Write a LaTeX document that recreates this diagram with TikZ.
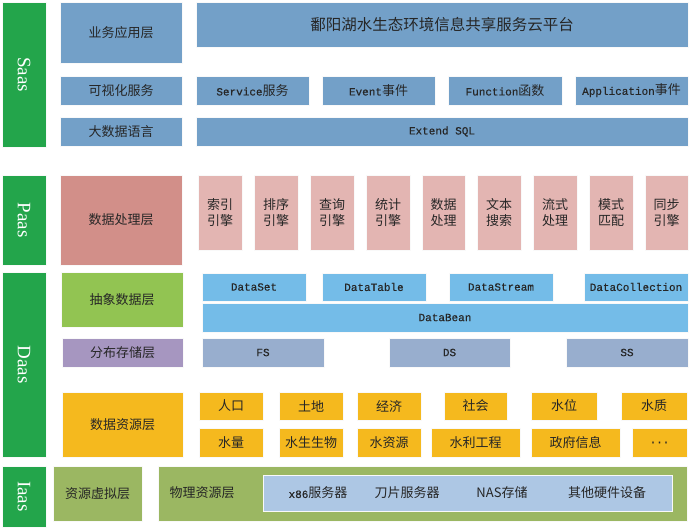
\documentclass[tikz,border=0pt]{standalone}
\usepackage{fontspec}
\setmainfont{Noto Sans CJK SC}
\setmonofont{Liberation Mono}[FakeBold=0.4]
\newfontfamily\sidefont{Liberation Serif}
\definecolor{cGreen}{HTML}{23A54B}
\definecolor{cSteel}{HTML}{73A0C8}
\definecolor{cPinkD}{HTML}{D28F89}
\definecolor{cPinkL}{HTML}{E3B5B2}
\definecolor{cLime}{HTML}{92C452}
\definecolor{cSky}{HTML}{74BCE8}
\definecolor{cPurple}{HTML}{A696C0}
\definecolor{cGrayBlue}{HTML}{98AECE}
\definecolor{cOrange}{HTML}{F5B91E}
\definecolor{cOlive}{HTML}{9BB762}
\definecolor{cPale}{HTML}{ADC7E4}
\definecolor{cText}{HTML}{262626}
\newcommand\bx[7]{\node[basebox,#6,minimum width={(#4-#2)*1pt},minimum height={(#5-#3)*1pt}] (#1) at ({(#2+#4)/2},{(#3+#5)/2}) {#7};}
\newcommand\mt[1]{{\ttfamily\fontsize{11}{12}\selectfont #1}}
\begin{document}
\begin{tikzpicture}[x=1pt,y=-1pt,
  basebox/.style={draw=white!75!black!10,line width=0.6pt,inner sep=0pt,outer sep=0pt,text=cText,font=\fontsize{13}{15}\selectfont,align=center},
  side/.style={fill=cGreen},
  sidetext/.style={rotate=-90,text=white,font=\sidefont\fontsize{19}{20}\selectfont},
  steel/.style={fill=cSteel},
  pinkd/.style={fill=cPinkD},
  pinkl/.style={fill=cPinkL,font=\fontsize{13}{15.5}\selectfont},
  lime/.style={fill=cLime},
  sky/.style={fill=cSky},
  purple/.style={fill=cPurple},
  graybl/.style={fill=cGrayBlue},
  orange/.style={fill=cOrange},
  olive/.style={fill=cOlive},
  pale/.style={fill=cPale},
  mono/.style={font=\ttfamily\fontsize{11}{12}\selectfont},
  lbl/.style={text=cText,font=\fontsize{13}{15}\selectfont,inner sep=0pt}
]
\useasboundingbox (0,0) rectangle (689,530);
% side bars
\bx{saas}{2}{2}{46}{147}{side}{}
\node[sidetext] (saast) at (saas.center) {Saas};
\bx{paas}{2}{175}{46}{265}{side}{}
\node[sidetext] (paast) at (paas.center) {Paas};
\bx{daas}{2}{272}{46}{457}{side}{}
\node[sidetext] (daast) at (daas.center) {Daas};
\bx{iaas}{2}{466}{46}{527}{side}{}
\node[sidetext] (iaast) at (iaas.center) {Iaas};
% Saas
\bx{app}{60}{2}{182}{63}{steel}{业务应用层}
\bx{title}{196}{2}{688}{47}{steel,font=\fontsize{15.5}{17}\selectfont}{鄱阳湖水生态环境信息共享服务云平台}
\bx{vis}{60}{76}{182}{105}{steel}{可视化服务}
\bx{svc}{196}{76}{309}{105}{steel}{\mt{Service}服务}
\bx{evt}{322}{76}{435}{105}{steel}{\mt{Event}事件}
\bx{fun}{448}{76}{562}{105}{steel}{\mt{Function}函数}
\bx{apl}{575}{76}{688}{105}{steel}{\mt{Application}事件}
\bx{bdl}{60}{117}{182}{146}{steel}{大数据语言}
\bx{sql}{196}{117}{688}{146}{steel,mono}{Extend SQL}
% Paas
\bx{proc}{60}{175}{182}{265}{pinkd}{数据处理层}
\bx{e1}{198}{175}{242}{250}{pinkl}{索引\\引擎}
\bx{e2}{254}{175}{298}{250}{pinkl}{排序\\引擎}
\bx{e3}{310}{175}{354}{250}{pinkl}{查询\\引擎}
\bx{e4}{366}{175}{410}{250}{pinkl}{统计\\引擎}
\bx{e5}{422}{175}{465}{250}{pinkl}{数据\\处理}
\bx{e6}{477}{175}{521}{250}{pinkl}{文本\\搜索}
\bx{e7}{533}{175}{577}{250}{pinkl}{流式\\处理}
\bx{e8}{589}{175}{633}{250}{pinkl}{模式\\匹配}
\bx{e9}{645}{175}{688}{250}{pinkl}{同步\\引擎}
% Daas
\bx{abs}{61}{272}{183}{327}{lime}{抽象数据层}
\bx{dset}{202}{273}{306}{301}{sky,mono}{DataSet}
\bx{dtab}{322}{273}{426}{301}{sky,mono}{DataTable}
\bx{dstr}{449}{273}{553}{301}{sky,mono}{DataStream}
\bx{dcol}{584}{273}{688}{301}{sky,mono}{DataCollection}
\bx{dbean}{202}{303}{688}{332}{sky,mono}{DataBean}
\bx{dist}{62}{338}{183}{367}{purple}{分布存储层}
\bx{fs}{202}{338}{324}{367}{graybl,mono}{FS}
\bx{ds}{389}{338}{510}{367}{graybl,mono}{DS}
\bx{ss}{566}{338}{688}{367}{graybl,mono}{SS}
\bx{res}{62}{392}{183}{457}{orange}{数据资源层}
\bx{r1}{199}{392}{263}{420}{orange}{人口}
\bx{r2}{279}{392}{343}{420}{orange}{土地}
\bx{r3}{357}{392}{421}{420}{orange}{经济}
\bx{r4}{444}{392}{507}{420}{orange}{社会}
\bx{r5}{531}{392}{597}{420}{orange}{水位}
\bx{r6}{621}{392}{687}{420}{orange}{水质}
\bx{s1}{199}{428}{263}{457}{orange}{水量}
\bx{s2}{279}{428}{343}{457}{orange}{水生生物}
\bx{s3}{357}{428}{421}{457}{orange}{水资源}
\bx{s4}{431}{428}{520}{457}{orange}{水利工程}
\bx{s5}{531}{428}{620}{457}{orange}{政府信息}
\bx{s6}{632}{428}{687}{457}{orange,mono}{...}
% Iaas
\bx{virt}{53}{466}{142}{521}{olive}{资源虚拟层}
\bx{phys}{158}{466}{687}{521}{olive}{}
\node[lbl] (physt) at (202,493) {物理资源层};
\bx{hw}{263}{475}{672}{511}{pale}{}
\node[lbl] (h1) at (318,493) {\mt{x86}服务器};
\node[lbl] (h2) at (407,493) {刀片服务器};
\node[lbl] (h3) at (502,493) {NAS存储};
\node[lbl] (h4) at (607,493) {其他硬件设备};
\end{tikzpicture}
\end{document}
